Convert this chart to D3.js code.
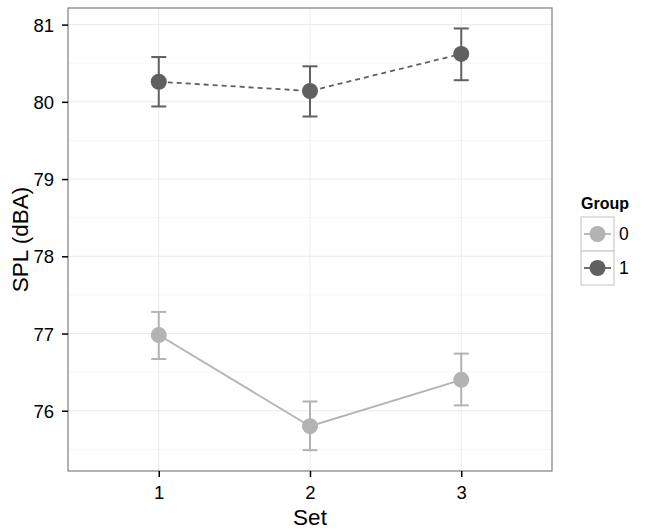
<!DOCTYPE html>
<html><head><meta charset="utf-8">
<script src="https://cdn.jsdelivr.net/npm/d3@7"></script>
<style>body{margin:0;background:#fff}svg{display:block}text{font-family:"Liberation Sans",Arial,sans-serif}</style>
</head><body><svg id="c" width="645" height="532"></svg>
<script>
const sets = [1, 2, 3];
const groups = ["0", "1"];
const mean0 = [76.98, 75.80, 76.40];
const lo0 = [76.67, 75.49, 76.07];
const hi0 = [77.28, 76.12, 76.74];
const mean1 = [80.26, 80.14, 80.62];
const lo1 = [79.94, 79.81, 80.28];
const hi1 = [80.58, 80.46, 80.95];
const yTicks = [76, 77, 78, 79, 80, 81];
const yMinor = [75.5, 76.5, 77.5, 78.5, 79.5, 80.5];

const colors = {"0": "#b3b3b3", "1": "#606060"};
const dashes = {"0": null, "1": "5,4"};
const series = [
  {g: "0", mean: mean0, lo: lo0, hi: hi0},
  {g: "1", mean: mean1, lo: lo1, hi: hi1}
];

const svg = d3.select("#c");
const L = 68, R = 552, T = 8, B = 471;
const x = d3.scaleLinear().domain([0.4, 3.6]).range([L, R]);
const y = d3.scaleLinear().domain([75.22, 81.215]).range([B, T]);

// grid
const grid = svg.append("g");
grid.selectAll(".mn").data(yMinor).join("line")
  .attr("x1", L).attr("x2", R).attr("y1", d => y(d)).attr("y2", d => y(d))
  .attr("stroke", "#f5f5f5").attr("stroke-width", 1);
grid.selectAll(".mj").data(yTicks).join("line")
  .attr("x1", L).attr("x2", R).attr("y1", d => y(d)).attr("y2", d => y(d))
  .attr("stroke", "#ebebeb").attr("stroke-width", 1);
grid.selectAll(".vx").data(sets).join("line")
  .attr("y1", T).attr("y2", B).attr("x1", d => x(d)).attr("x2", d => x(d))
  .attr("stroke", "#ebebeb").attr("stroke-width", 1);

// series
series.forEach(s => {
  const g = svg.append("g");
  const c = colors[s.g];
  const line = d3.line().x((d, i) => x(sets[i])).y(d => y(d));
  g.append("path").attr("d", line(s.mean)).attr("fill", "none")
    .attr("stroke", c).attr("stroke-width", 1.8)
    .attr("stroke-dasharray", dashes[s.g]);
  sets.forEach((v, i) => {
    const cx = x(v);
    g.append("line").attr("x1", cx).attr("x2", cx).attr("y1", y(s.lo[i])).attr("y2", y(s.hi[i]))
      .attr("stroke", c).attr("stroke-width", 2);
    [s.lo[i], s.hi[i]].forEach(e => {
      g.append("line").attr("x1", cx - 7.5).attr("x2", cx + 7.5).attr("y1", y(e)).attr("y2", y(e))
        .attr("stroke", c).attr("stroke-width", 2);
    });
    g.append("circle").attr("cx", cx).attr("cy", y(s.mean[i])).attr("r", 8).attr("fill", c);
  });
});

// panel border
svg.append("rect").attr("x", L).attr("y", T).attr("width", R - L).attr("height", B - T)
  .attr("fill", "none").attr("stroke", "#7f7f7f").attr("stroke-width", 1.2);

// axes
const xa = svg.append("g").attr("transform", `translate(0,${B})`)
  .call(d3.axisBottom(x).tickValues(sets).tickFormat(d3.format("d")).tickSize(6).tickPadding(9));
const ya = svg.append("g").attr("transform", `translate(${L},0)`)
  .call(d3.axisLeft(y).tickValues(yTicks).tickFormat(d3.format("d")).tickSize(6).tickPadding(8));
[xa, ya].forEach(a => {
  a.select(".domain").remove();
  a.selectAll(".tick line").attr("stroke", "#000").attr("stroke-width", 1.5);
  a.selectAll(".tick text").attr("fill", "#000").style("font-size", "18.5px");
});
ya.selectAll(".tick text").attr("dy", "0.36em");

svg.append("text").attr("x", (L + R) / 2).attr("y", 525).attr("text-anchor", "middle")
  .style("font-size", "22.5px").text("Set");
svg.append("text").attr("transform", `translate(28,${(T + B) / 2}) rotate(-90)`)
  .attr("text-anchor", "middle").style("font-size", "22.5px").text("SPL (dBA)");

// legend
const lg = svg.append("g");
lg.append("text").attr("x", 581).attr("y", 209).style("font-size", "16px").style("font-weight", "bold").text("Group");
groups.forEach((g, i) => {
  const top = 217 + i * 34;
  lg.append("rect").attr("x", 581).attr("y", top).attr("width", 33).attr("height", 34)
    .attr("fill", "#fff").attr("stroke", "#cccccc").attr("stroke-width", 1.2);
  lg.append("line").attr("x1", 584).attr("x2", 611).attr("y1", top + 17).attr("y2", top + 17)
    .attr("stroke", colors[g]).attr("stroke-width", 1.8);
  lg.append("circle").attr("cx", 597.5).attr("cy", top + 17).attr("r", 8).attr("fill", colors[g]);
  lg.append("text").attr("x", 619).attr("y", top + 17).attr("dy", "0.36em").style("font-size", "17.5px").text(g);
});
</script></body></html>
